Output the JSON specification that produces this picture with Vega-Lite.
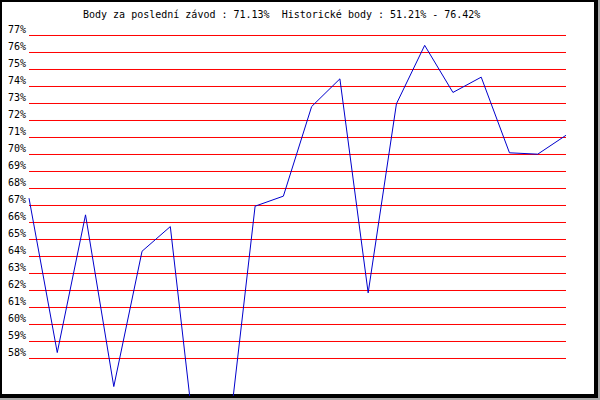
{
  "$schema": "https://vega.github.io/schema/vega-lite/v6.json",
  "autosize": "none",
  "width": 596,
  "height": 396,
  "padding": {"left": 0, "top": 0, "right": 4, "bottom": 4},
  "background": "#A9A9A9",
  "view": {"fill": "white", "stroke": "black", "strokeWidth": 4},
  "datasets": {
    "scores": [
      {"race": 1, "pct": 67.43},
      {"race": 2, "pct": 58.35},
      {"race": 3, "pct": 66.45},
      {"race": 4, "pct": 56.35},
      {"race": 5, "pct": 64.31},
      {"race": 6, "pct": 65.76},
      {"race": 7, "pct": 51.21},
      {"race": 8, "pct": 52.5},
      {"race": 9, "pct": 66.96},
      {"race": 10, "pct": 67.55},
      {"race": 11, "pct": 72.82},
      {"race": 12, "pct": 74.45},
      {"race": 13, "pct": 61.86},
      {"race": 14, "pct": 72.98},
      {"race": 15, "pct": 76.42},
      {"race": 16, "pct": 73.65},
      {"race": 17, "pct": 74.55},
      {"race": 18, "pct": 70.10},
      {"race": 19, "pct": 70.02},
      {"race": 20, "pct": 71.13}
    ],
    "grid": [
      {"v": 58, "label": "58%"}, {"v": 59, "label": "59%"}, {"v": 60, "label": "60%"},
      {"v": 61, "label": "61%"}, {"v": 62, "label": "62%"}, {"v": 63, "label": "63%"},
      {"v": 64, "label": "64%"}, {"v": 65, "label": "65%"}, {"v": 66, "label": "66%"},
      {"v": 67, "label": "67%"}, {"v": 68, "label": "68%"}, {"v": 69, "label": "69%"},
      {"v": 70, "label": "70%"}, {"v": 71, "label": "71%"}, {"v": 72, "label": "72%"},
      {"v": 73, "label": "73%"}, {"v": 74, "label": "74%"}, {"v": 75, "label": "75%"},
      {"v": 76, "label": "76%"}, {"v": 77, "label": "77%"}
    ],
    "heading": [
      {"text": "Body za poslední závod : 71.13%\u00a0 Historické body : 51.21% - 76.42%"}
    ]
  },
  "layer": [
    {
      "data": {"name": "grid"},
      "mark": {"type": "rule", "color": "#FF0000", "strokeWidth": 1},
      "encoding": {
        "x": {"datum": 1, "type": "quantitative", "scale": {"domain": [-0.02607, 21.0613], "nice": false, "zero": false}, "axis": null},
        "x2": {"datum": 20},
        "y": {"field": "v", "type": "quantitative", "scale": {"domain": [55.7941, 79.0882], "nice": false, "zero": false}, "axis": null}
      }
    },
    {
      "data": {"name": "grid"},
      "mark": {"type": "text", "font": "DejaVu Sans Mono", "fontSize": 10, "align": "left", "baseline": "alphabetic", "dy": -2, "color": "black"},
      "encoding": {
        "x": {"datum": 0.257, "type": "quantitative", "scale": {"domain": [-0.02607, 21.0613], "nice": false, "zero": false}, "axis": null},
        "y": {"field": "v", "type": "quantitative", "scale": {"domain": [55.7941, 79.0882], "nice": false, "zero": false}, "axis": null},
        "text": {"field": "label"}
      }
    },
    {
      "data": {"name": "scores"},
      "mark": {"type": "line", "color": "#0000CC", "strokeWidth": 1, "clip": true},
      "encoding": {
        "x": {"field": "race", "type": "quantitative", "scale": {"domain": [-0.02607, 21.0613], "nice": false, "zero": false}, "axis": null},
        "y": {"field": "pct", "type": "quantitative", "scale": {"domain": [55.7941, 79.0882], "nice": false, "zero": false}, "axis": null}
      }
    },
    {
      "data": {"name": "heading"},
      "mark": {"type": "text", "font": "DejaVu Sans Mono", "fontSize": 10, "align": "left", "baseline": "alphabetic", "color": "black"},
      "encoding": {
        "x": {"datum": 2.9106, "type": "quantitative", "scale": {"domain": [-0.02607, 21.0613], "nice": false, "zero": false}, "axis": null},
        "y": {"datum": 78.03, "type": "quantitative", "scale": {"domain": [55.7941, 79.0882], "nice": false, "zero": false}, "axis": null},
        "text": {"field": "text"}
      }
    }
  ]
}
